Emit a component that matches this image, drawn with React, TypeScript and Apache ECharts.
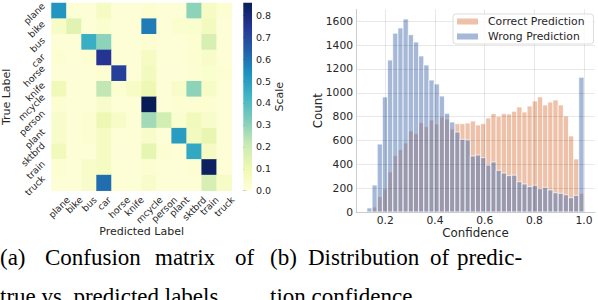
import React, { useEffect, useRef } from "react";
import * as echarts from "echarts";

// ---------- data ----------
const classNames = ["plane", "bike", "bus", "car", "horse", "knife", "mcycle", "person", "plant", "sktbrd", "train", "truck"];
// rows = true label, columns = predicted label
const rowPlane = [0.52, 0.01, 0.01, 0.06, 0.01, 0.01, 0.02, 0.01, 0.01, 0.3, 0.06, 0.02];
const rowBike = [0.05, 0.14, 0.01, 0.03, 0.01, 0.01, 0.58, 0.01, 0.03, 0.03, 0.07, 0.01];
const rowBus = [0.01, 0.01, 0.45, 0.3, 0.01, 0.01, 0.02, 0.01, 0.01, 0.02, 0.17, 0.01];
const rowCar = [0.02, 0.01, 0.02, 0.75, 0.01, 0.01, 0.06, 0.01, 0.01, 0.02, 0.04, 0.01];
const rowHorse = [0.01, 0.01, 0.01, 0.02, 0.72, 0.01, 0.07, 0.01, 0.01, 0.02, 0.03, 0.02];
const rowKnife = [0.09, 0.01, 0.01, 0.22, 0.02, 0.05, 0.1, 0.01, 0.04, 0.3, 0.05, 0.01];
const rowMcycle = [0.02, 0.01, 0.01, 0.04, 0.01, 0.01, 0.857, 0.01, 0.02, 0.02, 0.02, 0.01];
const rowPerson = [0.04, 0.01, 0.02, 0.1, 0.05, 0.01, 0.27, 0.18, 0.03, 0.08, 0.04, 0.01];
const rowPlant = [0.04, 0.01, 0.02, 0.06, 0.01, 0.01, 0.04, 0.01, 0.5, 0.07, 0.12, 0.01];
const rowSktbrd = [0.08, 0.01, 0.01, 0.06, 0.01, 0.01, 0.13, 0.02, 0.01, 0.47, 0.06, 0.01];
const rowTrain = [0.02, 0.01, 0.04, 0.06, 0.01, 0.01, 0.02, 0.01, 0.01, 0.02, 0.84, 0.01];
const rowTruck = [0.01, 0.01, 0.04, 0.61, 0.01, 0.01, 0.04, 0.01, 0.01, 0.01, 0.17, 0.05];
const confusionRows = [rowPlane, rowBike, rowBus, rowCar, rowHorse, rowKnife, rowMcycle, rowPerson, rowPlant, rowSktbrd, rowTrain, rowTruck];

const scaleMin = 0;
const scaleMax = 0.857;
const scaleTicks = [0, 0.1, 0.2, 0.3, 0.4, 0.5, 0.6, 0.7, 0.8];
const ylgnbu = ["#ffffd9", "#edf8b1", "#c7e9b4", "#7fcdbb", "#41b6c4", "#1d91c0", "#225ea8", "#253494", "#081d58"];

// histogram of confidence, 42 equal bins
const binStart = 0.126;
const binWidth = 0.0208;
const correctCounts = [0, 42, 128, 193, 336, 472, 523, 579, 680, 657, 749, 716, 772, 738, 797, 780, 696, 741, 741, 747, 763, 730, 741, 789, 825, 800, 825, 822, 845, 881, 839, 889, 931, 965, 898, 923, 940, 898, 805, 638, 445, 157];
const wrongCounts = [34, 226, 570, 965, 1275, 1500, 1544, 1619, 1488, 1426, 1309, 1233, 1107, 1074, 973, 828, 755, 671, 610, 604, 470, 478, 456, 394, 420, 350, 327, 305, 309, 254, 235, 213, 224, 196, 207, 185, 162, 157, 145, 120, 140, 1130];
const confidenceTicks = [0.2, 0.4, 0.6, 0.8, 1.0];
const confidenceMin = 0.082;
const confidenceMax = 1.044;
const countTicks = [0, 200, 400, 600, 800, 1000, 1200, 1400, 1600];
const countMax = 1700;

const seriesNames = ["Correct Prediction", "Wrong Prediction"];
const captionA = ["(a)", "Confusion", "matrix", "of"];
const captionA2 = "true vs. predicted labels.";
const captionB = ["(b)", "Distribution", "of", "predic-"];
const captionB2 = "tion confidence.";

// ---------- helpers ----------
const SANS = "DejaVu Sans";
const TEXT = "#262626";
const CAT_FONT = 9.3;

function measure(t: string, size: number): number {
  const c = document.createElement("canvas").getContext("2d");
  if (!c) return t.length * size * 0.6;
  c.font = `${size}px "${SANS}"`;
  return c.measureText(t).width;
}

function buildOption() {
  const heatData: number[][] = [];
  confusionRows.forEach((row, r) => row.forEach((v, c) => heatData.push([c, r, v])));

  const toBins = (counts: number[]) =>
    counts.map((c, i) => [binStart + i * binWidth, binStart + (i + 1) * binWidth, c]);

  const histItem = (params: any, api: any) => {
    const a = api.coord([api.value(0), api.value(2)]);
    const b = api.coord([api.value(1), 0]);
    return {
      type: "rect",
      shape: { x: a[0], y: a[1], width: b[0] - a[0], height: b[1] - a[1] },
      style: { fill: api.visual("color"), stroke: "rgba(255,255,255,0.9)", lineWidth: 0.8 },
    };
  };

  // rotated tick labels placed like matplotlib (rotated bounding box centred on the tick)
  const H = CAT_FONT * 1.17;
  const PAD = 3.5;
  const catFont = `${CAT_FONT}px "${SANS}"`;
  const xLabelItem = (params: any, api: any) => {
    const name = classNames[params.dataIndex];
    const w = measure(name, CAT_FONT);
    const p = api.coord([api.value(0), 0]);
    const cs = params.coordSys;
    const d = (w + H) / (2 * Math.SQRT2);
    return {
      type: "text",
      x: p[0],
      y: cs.y + cs.height + PAD + d,
      rotation: Math.PI / 4,
      style: { text: name, font: catFont, fill: TEXT, align: "center", verticalAlign: "middle" },
    };
  };
  const yLabelItem = (params: any, api: any) => {
    const name = classNames[params.dataIndex];
    const w = measure(name, CAT_FONT);
    const p = api.coord([0, api.value(1)]);
    const cs = params.coordSys;
    const d = (w + H) / (2 * Math.SQRT2);
    return {
      type: "text",
      x: cs.x - 4.5 - d,
      y: p[1] + 2.5,
      rotation: Math.PI / 4,
      style: { text: name, font: catFont, fill: TEXT, align: "center", verticalAlign: "middle" },
    };
  };

  const gridLine = { show: true, lineStyle: { color: "rgba(0,0,0,0.09)", width: 1 } };
  const serif = "23px 'Liberation Serif'";
  const cap = (text: string, x: number, y: number) => ({
    type: "text",
    x,
    y,
    style: { text, font: serif, fill: "#000", align: "left", verticalAlign: "top" },
  });

  return {
    animation: false,
    textStyle: { fontFamily: SANS, color: TEXT },
    grid: [
      { left: 51, top: 3, width: 180.7, height: 187.7 },
      { left: 243.3, top: 2.7, width: 8.7, height: 188 },
      { left: 356, top: 9.4, width: 239, height: 202.6 },
    ],
    xAxis: [
      {
        gridIndex: 0,
        type: "category",
        data: classNames,
        axisLine: { show: false },
        axisTick: { show: false },
        splitLine: { show: false },
        axisLabel: { show: false },
        name: "Predicted Label",
        nameLocation: "middle",
        nameGap: 41,
        nameMoveOverlap: false,
        nameTextStyle: { fontSize: 11, color: TEXT, fontFamily: SANS, verticalAlign: "middle" },
      },
      { gridIndex: 1, type: "value", min: 0, max: 1, show: false },
      {
        gridIndex: 2,
        type: "value",
        min: confidenceMin,
        max: confidenceMax,
        z: 3,
        axisLine: { show: true, lineStyle: { color: "#cccccc" } },
        axisTick: { show: false, customValues: confidenceTicks },
        axisLabel: {
          customValues: confidenceTicks,
          formatter: (v: number) => v.toFixed(1),
          fontSize: 10.7,
          color: TEXT,
          margin: 3,
        },
        splitLine: gridLine,
        name: "Confidence",
        nameLocation: "middle",
        nameGap: 21,
        nameMoveOverlap: false,
        nameTextStyle: { fontSize: 11.8, color: TEXT, fontFamily: SANS, verticalAlign: "middle" },
      },
    ],
    yAxis: [
      {
        gridIndex: 0,
        type: "category",
        data: classNames,
        inverse: true,
        axisLine: { show: false },
        axisTick: { show: false },
        splitLine: { show: false },
        axisLabel: { show: false },
        name: "True Label",
        nameLocation: "middle",
        nameRotate: 90,
        nameGap: 45,
        nameMoveOverlap: false,
        nameTextStyle: { fontSize: 11, color: TEXT, fontFamily: SANS, verticalAlign: "middle" },
      },
      {
        gridIndex: 1,
        type: "value",
        position: "right",
        min: scaleMin,
        max: scaleMax,
        axisLine: { show: false },
        axisTick: { show: true, length: 3, customValues: scaleTicks, lineStyle: { color: TEXT, width: 0.8 } },
        axisLabel: {
          customValues: scaleTicks,
          formatter: (v: number) => v.toFixed(1),
          fontSize: 9.5,
          color: TEXT,
          margin: 4,
        },
        splitLine: { show: false },
        name: "Scale",
        nameLocation: "middle",
        nameRotate: 90,
        nameGap: 27,
        nameMoveOverlap: false,
        nameTextStyle: { fontSize: 11, color: TEXT, fontFamily: SANS, verticalAlign: "middle" },
      },
      {
        gridIndex: 2,
        type: "value",
        min: 0,
        max: countMax,
        z: 3,
        axisLine: { show: true, lineStyle: { color: "#cccccc" } },
        axisTick: { show: false, customValues: countTicks },
        axisLabel: {
          customValues: countTicks,
          formatter: (v: number) => String(v),
          fontSize: 10.7,
          color: TEXT,
          margin: 3,
        },
        splitLine: gridLine,
        name: "Count",
        nameLocation: "middle",
        nameRotate: 90,
        nameGap: 38,
        nameMoveOverlap: false,
        nameTextStyle: { fontSize: 11.8, color: TEXT, fontFamily: SANS, verticalAlign: "middle" },
      },
    ],
    visualMap: {
      type: "continuous",
      show: false,
      seriesIndex: 0,
      dimension: 2,
      min: scaleMin,
      max: scaleMax,
      inRange: { color: ylgnbu },
    },
    legend: {
      data: seriesNames,
      orient: "vertical",
      left: 453,
      top: 14,
      icon: "rect",
      itemWidth: 21,
      itemHeight: 6,
      itemGap: 4,
      padding: [2, 9, 2, 4],
      backgroundColor: "rgba(255,255,255,0.8)",
      borderColor: "#dddddd",
      borderWidth: 1,
      borderRadius: 3,
      textStyle: { fontSize: 10.8, color: TEXT, fontFamily: SANS, padding: [0, 0, 0, 5] },
    },
    series: [
      {
        type: "heatmap",
        xAxisIndex: 0,
        yAxisIndex: 0,
        data: heatData,
        itemStyle: { borderWidth: 0 },
      },
      {
        type: "custom",
        xAxisIndex: 1,
        yAxisIndex: 1,
        data: [[0, scaleMax]],
        renderItem: (params: any, api: any) => {
          const a = api.coord([0, scaleMax]);
          const b = api.coord([1, scaleMin]);
          return {
            type: "rect",
            shape: { x: a[0], y: a[1], width: b[0] - a[0], height: b[1] - a[1] },
            style: {
              fill: new echarts.graphic.LinearGradient(
                0, 1, 0, 0,
                ylgnbu.map((c, i) => ({ offset: i / (ylgnbu.length - 1), color: c }))
              ),
            },
          };
        },
      },
      {
        type: "custom",
        name: seriesNames[0],
        xAxisIndex: 2,
        yAxisIndex: 2,
        data: toBins(correctCounts),
        encode: { x: [0, 1], y: 2 },
        itemStyle: { color: "rgba(221,132,82,0.5)" },
        renderItem: histItem,
      },
      {
        type: "custom",
        name: seriesNames[1],
        xAxisIndex: 2,
        yAxisIndex: 2,
        data: toBins(wrongCounts),
        encode: { x: [0, 1], y: 2 },
        itemStyle: { color: "rgba(76,114,176,0.5)" },
        renderItem: histItem,
      },
      {
        type: "custom",
        xAxisIndex: 0,
        yAxisIndex: 0,
        clip: false,
        silent: true,
        data: classNames.map((_, i) => [i, 0]),
        renderItem: xLabelItem,
      },
      {
        type: "custom",
        xAxisIndex: 0,
        yAxisIndex: 0,
        clip: false,
        silent: true,
        data: classNames.map((_, i) => [0, i]),
        renderItem: yLabelItem,
      },
    ],
    graphic: [
      cap(captionA[0], 0, 246),
      cap(captionA[1], 45, 246),
      cap(captionA[2], 155, 246),
      cap(captionA[3], 235, 246),
      cap(captionA2, 0, 285),
      cap(captionB[0], 270, 246),
      cap(captionB[1], 308, 246),
      cap(captionB[2], 430, 246),
      cap(captionB[3], 457, 246),
      cap(captionB2, 270, 285),
    ],
  };
}

export default function App() {
  const ref = useRef<HTMLDivElement>(null);
  useEffect(() => {
    if (!ref.current) return;
    const chart = echarts.init(ref.current, undefined, { renderer: "svg" });
    chart.setOption(buildOption() as any);
    return () => chart.dispose();
  }, []);
  return <div ref={ref} style={{ width: 598, height: 300, position: "absolute", left: 0, top: 0 }} />;
}
